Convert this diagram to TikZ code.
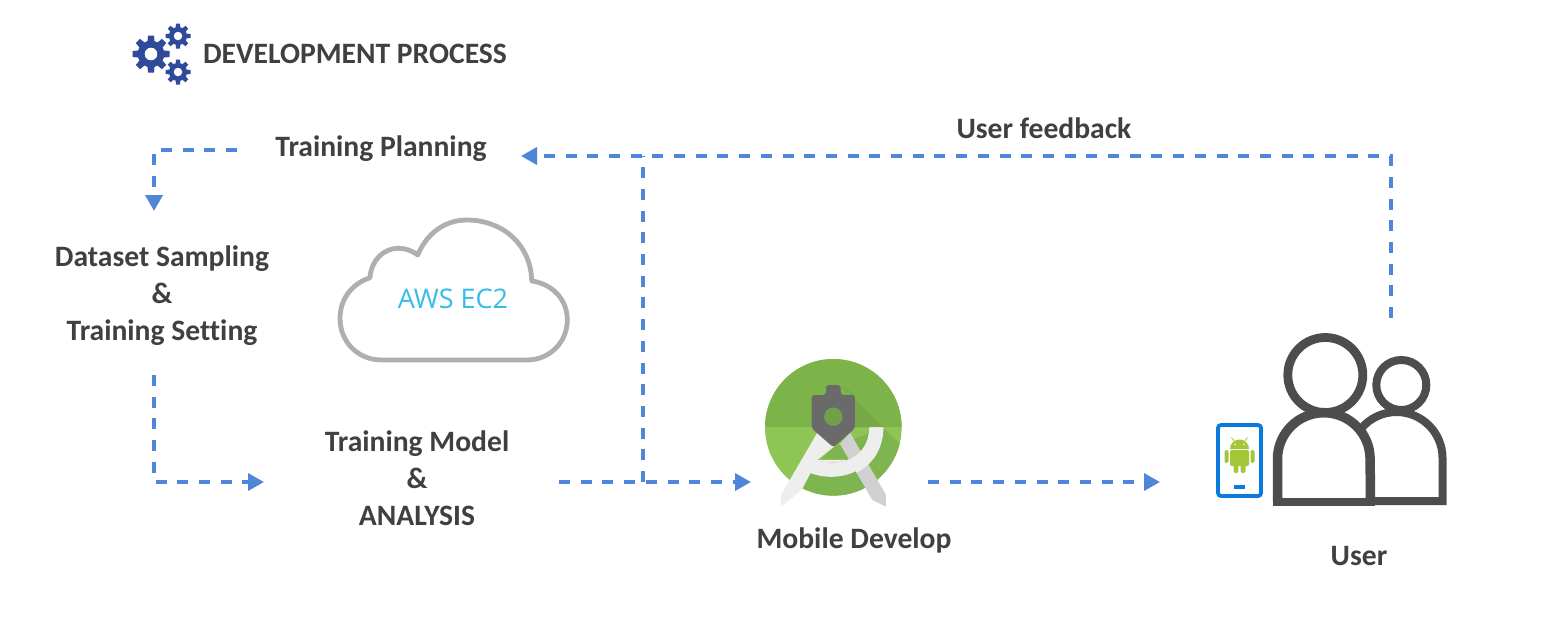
\documentclass[tikz,border=0pt]{standalone}
\usepackage{fontspec}
\setmainfont{Carlito}[Ligatures=NoCommon]
\newfontfamily\awsfont{Open Sans}
\usetikzlibrary{arrows.meta}
\definecolor{inkgray}{HTML}{404040}
\definecolor{flowblue}{HTML}{4F86D9}
\definecolor{gearblue}{HTML}{2F4A9B}
\definecolor{cloudgray}{HTML}{AFAFAF}
\definecolor{awsblue}{HTML}{35BDE8}
\definecolor{peoplegray}{HTML}{4D4D4D}
\definecolor{phoneblue}{HTML}{0A7BDC}
\definecolor{droid}{HTML}{A4C639}
\definecolor{asupper}{HTML}{7DB44A}
\definecolor{aslower}{HTML}{8FC555}
\definecolor{asshade}{HTML}{7FB550}
\definecolor{asshadetop}{HTML}{76A848}
\definecolor{ashead}{HTML}{6A6A6A}
\definecolor{ashole}{HTML}{6FA14A}
\definecolor{aslegl}{HTML}{EEEEEE}
\definecolor{aslegr}{HTML}{D0D0D0}
\tikzset{
  label text/.style={font=\fontsize{29.6}{37}\selectfont\bfseries,text=inkgray,align=center,inner sep=0pt,outer sep=0pt},
  flow/.style={draw=flowblue,line width=3.6pt,dash pattern=on 11pt off 10.7pt},
  flow tip/.style={-{Triangle[length=16pt,width=17pt,fill=flowblue]}}
}
\newcommand{\gearicon}[3]{%
  \begin{scope}[shift={(#1,#2)},x=#3pt,y=#3pt]
    \fill[gearblue] (0,0) circle[radius=0.72];
    \foreach \a in {0,45,...,315}{
      \fill[gearblue,rotate=\a] (-0.2,0.6) -- (-0.16,1) -- (0.16,1) -- (0.2,0.6) -- cycle;
    }
    \fill[white] (0,0) circle[radius=0.34];
  \end{scope}}
\begin{document}
\begin{tikzpicture}[x=1pt,y=-1pt]
\useasboundingbox (0,0) rectangle (1563,622);
\fill[white] (0,0) rectangle (1563,622);

% gears
\gearicon{151}{54}{18.5}
\gearicon{178}{36}{12.5}
\gearicon{178}{72}{12.5}
\node[label text,anchor=west] (title) at (203,54) {DEVELOPMENT PROCESS};

% labels
\node[label text] (plan) at (381,149) {Training Planning};
\node[label text] (data) at (162,296) {Dataset Sampling\\\&\\Training Setting};
\node[label text] (model) at (417,478) {Training Model\\\&\\ANALYSIS};
\node[label text] (mobile) at (854,540) {Mobile Develop};
\node[label text] (user) at (1359,556) {User};
\node[label text] (feedback) at (1044,128) {User feedback};

% cloud
\draw[cloudgray,line width=4.8pt,line join=round]
  (381.7,360) -- (526.7,360)
  .. controls (550,360) and (567.3,342) .. (567.3,320)
  .. controls (567.3,300) and (553,284) .. (531.7,281)
  .. controls (531,245) and (503,220) .. (466.7,220)
  .. controls (445,220) and (427,233) .. (417.7,255)
  .. controls (411,250) and (405,248.3) .. (398.3,248.3)
  .. controls (383,248.3) and (371,261) .. (370,277.7)
  .. controls (351,284) and (340,300) .. (340,318.3)
  .. controls (340,342) and (358,360) .. (381.7,360) -- cycle;
\node[font=\awsfont\fontsize{27}{32}\selectfont,text=awsblue,inner sep=0pt] (aws) at (453,299) {AWS EC2};

% Android Studio icon (zoom coordinates)
\begin{scope}[shift={(740,350)},x=0.3333pt,y=-0.3333pt]
  \fill[aslower] (280,232) circle (68.3pt);
  \begin{scope}
    \clip (280,232) circle (68.3pt);
    \fill[asupper] (60,10) rectangle (500,232);
    \fill[asshade] (430,232) -- (500,302) -- (500,460) -- (60,460) -- (210,365) -- (280,292) -- cycle;
    \fill[asshadetop] (302,105) -- (430,232) -- (345,232) -- (345,135) -- cycle;
  \end{scope}
  % right leg
  \fill[aslegr] (330,248) -- (438,435) -- (438,470) -- (397,450) -- (300,282) -- cycle;
  % left leg and arc
  \fill[aslegl] (232,248) -- (282,290) -- (232,330) -- (185,420) -- (123,470) -- (123,435) -- cycle;
  \fill[aslegl] (232,330) .. controls (290,352) and (388,330) .. (388,232) -- (430,232)
     .. controls (430,340) and (320,410) .. (207,368) -- cycle;
  \fill[aslegr] (338,325) -- (362,345) -- (384,338) -- (358,300) -- cycle;
  \fill[aslegl] (232,330) .. controls (290,352) and (388,330) .. (388,232) -- (430,232)
     .. controls (430,300) and (395,345) .. (350,368) -- (330,330) -- cycle;
  % head
  \fill[ashead,rounded corners=3pt] (258,135) -- (258,105) -- (302,105) -- (302,135) -- (345,135) -- (345,235) -- (280,292) -- (215,235) -- (215,135) -- cycle;
  \fill[ashole] (280,200) circle (9.2pt);
\end{scope}

% people
\draw[peoplegray,line width=8pt] (1401.3,385) circle (25pt);
\draw[peoplegray,line width=8pt] (1370,501) -- (1442.5,501) -- (1442.5,458)
   arc[start angle=0,end angle=140,radius=46pt];
\draw[peoplegray,line width=8.8pt] (1325.3,375) circle (37.5pt);
\fill[white] (1277.5,501.5) -- (1277.5,459) arc[start angle=180,end angle=0,radius=46.3pt] -- (1370,501.5) -- cycle;
\draw[peoplegray,line width=9.5pt] (1277.5,501.5) -- (1277.5,459)
   arc[start angle=180,end angle=0,radius=46.3pt] -- (1370.5,504.5);
\draw[peoplegray,line width=8.5pt] (1272.7,502) -- (1375,502);

% phone
\draw[phoneblue,line width=3.8pt,rounded corners=3pt] (1218,425) rectangle (1261,496);
\fill[phoneblue] (1234.3,485) rectangle (1245,489);
\begin{scope}[droid]
  \fill (1230,449) arc[start angle=180,end angle=0,radius=9.5pt] -- cycle;
  \draw[line width=0.8pt] (1234,441) -- (1231.5,437.5) (1245,441) -- (1247.5,437.5);
  \fill[rounded corners=2pt] (1230,450) -- (1249,450) -- (1249,466) -- (1230,466) -- cycle;
  \fill[rounded corners=2pt] (1224.5,450) rectangle (1228.5,463);
  \fill[rounded corners=2pt] (1250.5,450) rectangle (1254.5,463);
  \fill[rounded corners=2pt] (1233.5,460) rectangle (1238.3,473);
  \fill[rounded corners=2pt] (1240.7,460) rectangle (1245.5,473);
  \fill[white] (1235,444.5) circle (0.8pt) (1244,444.5) circle (0.8pt);
\end{scope}

% connector ends
\coordinate (planOut) at (237,150);
\coordinate (dataIn) at (154,211);
\coordinate (dataOut) at (154,375);
\coordinate (modelIn) at (264,482);
\coordinate (modelOut) at (559,482);
\coordinate (studioIn) at (751,482);
\coordinate (studioOut) at (928,482);
\coordinate (userIn) at (1160,482);
\coordinate (userOut) at (1391,318);
\coordinate (planIn) at (521,156);
\coordinate (branch) at (643,482);
\coordinate (branchTop) at (643,156);

\draw[flow,flow tip] (planOut) -| (dataIn);
\draw[flow,flow tip] (dataOut) |- (modelIn);
\draw[flow,flow tip] (modelOut) -- (studioIn);
\draw[flow,flow tip] (studioOut) -- (userIn);
\draw[flow,flow tip] (userOut) |- (planIn);
\draw[flow] (branch) -- (branchTop);
\end{tikzpicture}
\end{document}
